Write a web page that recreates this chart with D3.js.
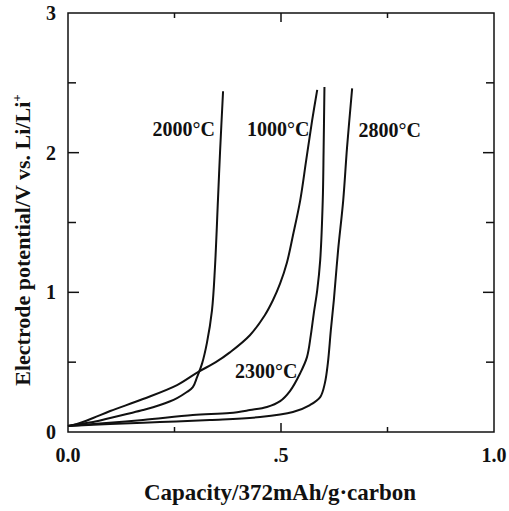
<!DOCTYPE html>
<html>
<head>
<meta charset="utf-8">
<script src="https://cdn.jsdelivr.net/npm/d3@7"></script>
<style>
  body { margin: 0; background: #fff; }
  svg text { font-family: "Liberation Serif", "DejaVu Serif", serif; font-weight: bold; fill: #111; }
</style>
</head>
<body>
<div id="chart"></div>
<script>
// Capacity (x, 372 mAh/g) vs electrode potential (V) for each heat treatment
const cap2000 = [0, 0.028, 0.059, 0.099, 0.138, 0.176, 0.216, 0.256, 0.279, 0.293, 0.303, 0.315, 0.326, 0.338, 0.345, 0.352, 0.357, 0.364];
const pot2000 = [0.043, 0.057, 0.071, 0.100, 0.129, 0.157, 0.193, 0.243, 0.286, 0.321, 0.393, 0.493, 0.636, 0.871, 1.18, 1.66, 2.01, 2.44];

const cap1000 = [0, 0.021, 0.059, 0.099, 0.176, 0.256, 0.305, 0.347, 0.380, 0.427, 0.462, 0.481, 0.498, 0.514, 0.528, 0.545, 0.559, 0.573, 0.585];
const pot1000 = [0.043, 0.057, 0.100, 0.150, 0.236, 0.336, 0.429, 0.50, 0.57, 0.693, 0.836, 0.943, 1.064, 1.214, 1.407, 1.657, 1.943, 2.229, 2.45];

const cap2300 = [0, 0.059, 0.176, 0.293, 0.380, 0.427, 0.467, 0.498, 0.521, 0.545, 0.561, 0.570, 0.577, 0.585, 0.592, 0.598, 0.600, 0.602];
const pot2300 = [0.043, 0.057, 0.086, 0.121, 0.136, 0.157, 0.179, 0.221, 0.293, 0.421, 0.536, 0.693, 0.850, 1.014, 1.229, 1.657, 2.014, 2.47];

const cap2800 = [0, 0.099, 0.216, 0.333, 0.451, 0.528, 0.568, 0.592, 0.603, 0.610, 0.617, 0.624, 0.634, 0.646, 0.655, 0.667];
const pot2800 = [0.043, 0.057, 0.071, 0.086, 0.107, 0.143, 0.193, 0.25, 0.35, 0.493, 0.729, 0.943, 1.30, 1.657, 2.036, 2.46];

const seriesNames = ['2000°C', '1000°C', '2300°C', '2800°C'];
// label anchor points in data units
const labelCap = [0.345, 0.567, 0.392, 0.682];
const labelPot = [2.12, 2.12, 0.39, 2.11];
const labelAnchor = ['end', 'end', 'start', 'start'];

const xTicks = [0, 0.5, 1];
const xTickLabels = ['0.0', '.5', '1.0'];
const xMinor = [0.25, 0.75];
const yTicks = [0, 1, 2, 3];
const yMinor = [0.5, 1.5, 2.5];

const width = 509, height = 511;
const svg = d3.select('#chart').append('svg')
    .attr('width', width)
    .attr('height', height);

const x = d3.scaleLinear().domain([0, 1]).range([68, 494]);
const y = d3.scaleLinear().domain([0, 3]).range([432, 13]);

// frame
svg.append('rect')
   .attr('x', x(0)).attr('y', y(3))
   .attr('width', x(1) - x(0)).attr('height', y(0) - y(3))
   .attr('fill', 'none').attr('stroke', '#111').attr('stroke-width', 1.5);

// ticks, all pointing inside
const tickG = svg.append('g').attr('stroke', '#111').attr('stroke-width', 1.5);
xTicks.concat(xMinor).forEach(t => {
    if (t === 0 || t === 1) return;
    const len = xMinor.includes(t) ? 5 : 9;
    tickG.append('line').attr('x1', x(t)).attr('x2', x(t)).attr('y1', y(0)).attr('y2', y(0) - len);
    tickG.append('line').attr('x1', x(t)).attr('x2', x(t)).attr('y1', y(3)).attr('y2', y(3) + len);
});
yTicks.concat(yMinor).forEach(t => {
    if (t === 0 || t === 3) return;
    const len = yMinor.includes(t) ? 8 : 11;
    tickG.append('line').attr('x1', x(0)).attr('x2', x(0) + len).attr('y1', y(t)).attr('y2', y(t));
    tickG.append('line').attr('x1', x(1)).attr('x2', x(1) - len).attr('y1', y(t)).attr('y2', y(t));
});

// tick labels
svg.selectAll('.xl').data(xTicks).enter().append('text')
   .attr('x', d => x(d)).attr('y', 462)
   .attr('text-anchor', 'middle').attr('font-size', 20)
   .text((d, i) => xTickLabels[i]);
svg.selectAll('.yl').data(yTicks).enter().append('text')
   .attr('x', 56).attr('y', d => y(d) + 7)
   .attr('text-anchor', 'end').attr('font-size', 20)
   .text(d => d);

// axis titles
svg.append('text')
   .attr('x', 280).attr('y', 500)
   .attr('text-anchor', 'middle').attr('font-size', 23)
   .text('Capacity/372mAh/g\u00b7carbon');
const yt = svg.append('text')
   .attr('transform', 'translate(30,240) rotate(-90)')
   .attr('text-anchor', 'middle').attr('font-size', 22);
yt.append('tspan').text('Electrode potential/V vs. Li/Li');
yt.append('tspan').attr('dy', -9).attr('font-size', 13).text('+');

// curves
const line = d3.line()
    .x(d => x(d[0]))
    .y(d => y(d[1]))
    .curve(d3.curveCatmullRom.alpha(0.5));
const curves = [[cap2000, pot2000], [cap1000, pot1000], [cap2300, pot2300], [cap2800, pot2800]];
curves.forEach(c => {
    const pts = c[0].map((v, i) => [v, c[1][i]]);
    svg.append('path')
       .attr('d', line(pts))
       .attr('fill', 'none')
       .attr('stroke', '#111')
       .attr('stroke-width', 2);
});

// curve labels
svg.selectAll('.cl').data(seriesNames).enter().append('text')
   .attr('x', (d, i) => x(labelCap[i]))
   .attr('y', (d, i) => y(labelPot[i]))
   .attr('text-anchor', (d, i) => labelAnchor[i])
   .attr('font-size', 20)
   .text(d => d);
</script>
</body>
</html>
